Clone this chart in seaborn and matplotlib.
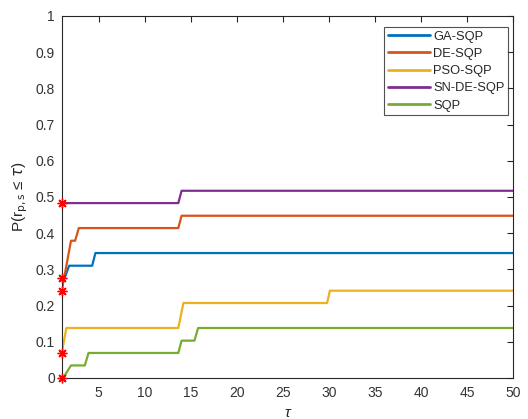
import numpy as np
import pandas as pd
import matplotlib
matplotlib.use("Agg")
import matplotlib.pyplot as plt
import seaborn as sns

# ---- data ----
algorithms = ["GA-SQP", "DE-SQP", "PSO-SQP", "SN-DE-SQP", "SQP"]

ga_tau = [1, 1.3, 1.8, 4.3, 4.65, 50]
ga_p = [0.276, 0.276, 0.310, 0.310, 0.345, 0.345]

de_tau = [1, 2.0, 2.45, 2.85, 13.65, 14.0, 50]
de_p = [0.241, 0.379, 0.379, 0.414, 0.414, 0.448, 0.448]

pso_tau = [1, 1.5, 13.65, 14.2, 29.8, 30.1, 50]
pso_p = [0.069, 0.138, 0.138, 0.207, 0.207, 0.241, 0.241]

sn_tau = [1, 13.65, 14.0, 50]
sn_p = [0.483, 0.483, 0.517, 0.517]

sqp_tau = [1, 1.15, 2.0, 3.5, 3.9, 13.65, 14.0, 15.4, 15.8, 50]
sqp_p = [0.0, 0.0, 0.0345, 0.0345, 0.069, 0.069, 0.103, 0.103, 0.138, 0.138]

start_p = [0.483, 0.276, 0.241, 0.069, 0.0]  # values at tau = 1 (red asterisks)

x_ticks = [5, 10, 15, 20, 25, 30, 35, 40, 45, 50]
y_ticks = [0, 0.1, 0.2, 0.3, 0.4, 0.5, 0.6, 0.7, 0.8, 0.9, 1]
y_tick_labels = ["0", "0.1", "0.2", "0.3", "0.4", "0.5", "0.6", "0.7", "0.8", "0.9", "1"]

colors = ["#0072BD", "#D95319", "#EDB120", "#7E2F8E", "#77AC30"]

# ---- build long-form table ----
series = [(ga_tau, ga_p), (de_tau, de_p), (pso_tau, pso_p), (sn_tau, sn_p), (sqp_tau, sqp_p)]
rows = []
for name, (t, p) in zip(algorithms, series):
    for ti, pi in zip(t, p):
        rows.append({"tau": ti, "P": pi, "alg": name})
df = pd.DataFrame(rows)

sns.set_style("white")
plt.rcParams["font.family"] = ["Liberation Sans", "DejaVu Sans"]

fig = plt.figure(figsize=(5.28, 4.19), dpi=100)
ax = fig.add_axes([0.117, 0.098, 0.855, 0.864])

sns.lineplot(data=df, x="tau", y="P", hue="alg", hue_order=algorithms,
             palette=colors, estimator=None, sort=False, linewidth=1.6, ax=ax)

ax.plot(np.ones(len(start_p)), start_p, linestyle="none", marker=(8, 2, 0),
        color="red", markersize=7, markeredgewidth=1.0, clip_on=False, zorder=5)

ax.set_xlim(1, 50)
ax.set_ylim(0, 1)
ax.set_xticks(x_ticks)
ax.set_yticks(y_ticks)
ax.set_yticklabels(y_tick_labels)
ax.tick_params(direction="in", length=4, width=0.8, colors="#262626",
               labelsize=10, top=True, right=True, labelcolor="#333333")
ax.tick_params(axis="x", pad=6)
ax.tick_params(axis="y", pad=5)
for s in ax.spines.values():
    s.set_color("#262626")
    s.set_linewidth(0.8)

ax.set_xlabel("τ", fontsize=11, style="italic", color="#262626", labelpad=4)
ax.set_ylabel(r"P(r$_{\mathrm{p,s}}$ ≤ $\tau$)", fontsize=11, color="#262626")

leg = ax.legend(loc="upper right", bbox_to_anchor=(0.989, 0.97), borderaxespad=0,
                fontsize=9.3, fancybox=False, frameon=True, handlelength=3.3,
                borderpad=0.3, labelspacing=0.4, handletextpad=0.2)
leg.get_frame().set_edgecolor("#262626")
leg.get_frame().set_linewidth(0.8)
for line in leg.get_lines():
    line.set_linewidth(2)

fig.savefig("out.png", dpi=100)
